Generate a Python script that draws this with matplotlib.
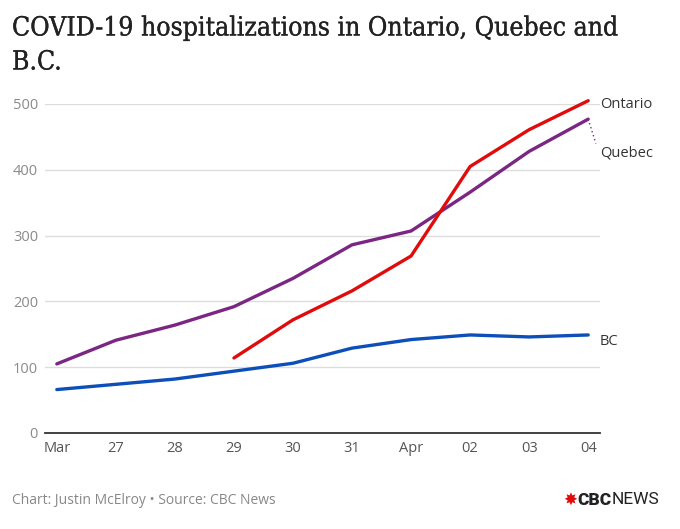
import matplotlib.pyplot as plt
import matplotlib.patheffects as pe

# data
dates = ['Mar', '27', '28', '29', '30', '31', 'Apr', '02', '03', '04']
ontario = [None, None, None, 114, 172, 216, 269, 405, 461, 505]
quebec = [105, 141, 164, 192, 235, 286, 307, 366, 428, 477]
bc = [66, 74, 82, 94, 106, 129, 142, 149, 146, 149]
yticks = [0, 100, 200, 300, 400, 500]

c_on = '#e00c0c'
c_qc = '#7a2682'
c_bc = '#0d4fb8'

fig = plt.figure(figsize=(6.8, 5.29), dpi=100)
ax = fig.add_axes([45 / 680, 96 / 529, 555 / 680, 329 / 529])

x = list(range(len(dates)))
on_x = [i for i, v in zip(x, ontario) if v is not None]
on_y = [v for v in ontario if v is not None]

ax.plot(x, bc, color=c_bc, lw=2.4, solid_capstyle='round', clip_on=False, zorder=3)
ax.plot(x, quebec, color=c_qc, lw=2.4, solid_capstyle='round', clip_on=False, zorder=3)
ax.plot(on_x, on_y, color=c_on, lw=2.4, solid_capstyle='round', clip_on=False, zorder=4)

ax.set_xlim(-0.2, 9.2)
ax.set_ylim(0, 500)
ax.set_xticks(x)
ax.set_xticklabels(dates)
ax.set_yticks(yticks)
ax.grid(axis='y', color='#dddddd', lw=1)
ax.set_axisbelow(True)
for side in ['top', 'right', 'left']:
    ax.spines[side].set_visible(False)
ax.spines['bottom'].set_color('#333333')
ax.spines['bottom'].set_linewidth(1.3)
ax.tick_params(axis='both', length=0, labelsize=10.5, colors='#8a8a8a', pad=6)
ax.tick_params(axis='x', colors='#555555')
ax.tick_params(axis='y', pad=5)
for lab in ax.get_xticklabels() + ax.get_yticklabels():
    lab.set_family('Open Sans')

# end labels
ax.text(9.2, 499, 'Ontario', fontsize=10.5, color='#333333', va='center',
        family='Open Sans', clip_on=False)
ax.text(9.2, 425, 'Quebec', fontsize=10.5, color='#333333', va='center',
        family='Open Sans', clip_on=False)
ax.plot([9, 9.13], [477, 440], color=c_qc, lw=1, ls=(0, (1, 2)), clip_on=False)
ax.text(9.2, 139, 'BC', fontsize=10.5, color='#333333', va='center',
        family='Open Sans', clip_on=False)

# title, a touch thicker to look like the medium slab serif
thick = [pe.withStroke(linewidth=0.2, foreground='#222222')]
fig.text(12 / 680, 1 - 28 / 529, 'COVID-19 hospitalizations in Ontario, Quebec and',
         fontsize=19, family='DejaVu Serif', stretch='condensed', color='#222222',
         va='center', path_effects=thick)
fig.text(12 / 680, 1 - 62 / 529, 'B.C.',
         fontsize=19, family='DejaVu Serif', stretch='condensed', color='#222222',
         va='center', path_effects=thick)
fig.text(12 / 680, 1 - 500 / 529, 'Chart: Justin McElroy \u2022 Source: CBC News',
         fontsize=10, color='#888888', va='center', family='Open Sans')

# logo
fig.text(563 / 680, 1 - 500 / 529, '\u2738', fontsize=12, color='#e00c0c',
         va='center', family='DejaVu Sans')
cbc = fig.text(577 / 680, 1 - 500 / 529, 'CBC', fontsize=12.5, color='#222222',
               va='center', weight='heavy', family='Roboto')
fig.canvas.draw()
bb = cbc.get_window_extent()
fig.text(bb.x1 / 680 + 0.001, 1 - 500 / 529, 'NEWS', fontsize=12.5, color='#222222',
         va='center', family='Roboto')

fig.savefig('out.png', dpi=100)
